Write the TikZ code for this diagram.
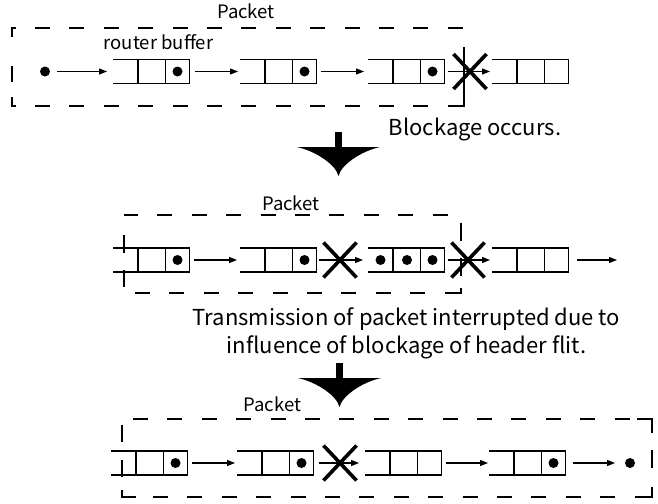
\documentclass[tikz,border=0pt]{standalone}
\usepackage{fontspec}
\setmainfont{Noto Sans CJK JP}
\usetikzlibrary{arrows.meta,calc}

\tikzset{
  bufnode/.style={rectangle, inner sep=0pt, outer sep=0pt, minimum width=76.5pt, minimum height=24pt},
  bufline/.style={line width=1.2pt},
  flow/.style={line width=1.2pt, -{Triangle[length=8pt,width=6pt]}},
  flit/.style={circle, fill=black, inner sep=0pt, outer sep=0pt, minimum size=10pt},
  pktline/.style={line width=1.4pt, dash pattern=on 15pt off 19.4pt},
  pktside/.style={line width=1.4pt},
  blockx/.style={line width=3.6pt},
  tag/.style={font=\fontsize{18.5}{22}\selectfont, anchor=base, inner sep=0pt},
  note/.style={font=\fontsize{22}{28}\selectfont, anchor=base, inner sep=0pt},
}

% open-ended router buffer: three cells, left side open
\newcommand\flitbuf[3]{%
  \node[bufnode] (#1) at (#2+38.25,#3) {};
  \draw[bufline] (#1.north west) -- (#1.north east) -- (#1.south east) -- (#1.south west);
  \draw[bufline] ($(#1.north west)+(25,0)$) -- ($(#1.south west)+(25,0)$)
                 ($(#1.north west)+(52.5,0)$) -- ($(#1.south west)+(52.5,0)$);
}
% flit sitting in the last cell of a buffer
\newcommand\lastflit[2]{\node[flit] (#1) at ($(#2.east)+(-12,0)$) {};}
% blockage cross
\newcommand\blockmark[1]{%
  \draw[blockx] ($(#1)+(-16.5,-17.5)$) -- ($(#1)+(16.5,17.5)$)
                ($(#1)+(-16.5,17.5)$) -- ($(#1)+(16.5,-17.5)$);
}
% heavy downward arrow: centre x, top of stem
\newcommand\bigdown[2]{%
  \fill (#1-3.5,#2) rectangle (#1+3.5,#2+16);
  \fill (#1-41.5,#2+15) -- (#1+41.5,#2+15)
        .. controls (#1+23.5,#2+19) and (#1+3,#2+32) .. (#1,#2+44)
        .. controls (#1-3,#2+32) and (#1-23.5,#2+19) .. cycle;
}

\begin{document}
\begin{tikzpicture}[x=1pt, y=-1pt]
\fill[white] (0,0) rectangle (658,503);
\useasboundingbox (0,0) rectangle (658,503);

% ---------- stage 1: packet advancing ----------
\draw[pktline, dash phase=11.4pt] (12,28) -- (464,28);
\draw[pktline, dash phase=11.4pt] (12,106) -- (464,106);
\draw[pktside] (15.6,28) -- (12,28) -- (12,37) (12,66) -- (12,82) (12,97) -- (12,106) -- (15.6,106);
\draw[pktside] (464,47) -- (464,106) -- (460,106);
\node[tag] (pk1) at (246,18.5) {Packet};
\node[tag] (rb) at (158.5,50) {router buffer};

\node[flit] (src) at (45,71.5) {};
\flitbuf{r1a}{113}{71.5}
\flitbuf{r1b}{240}{71.5}
\flitbuf{r1c}{368}{71.5}
\flitbuf{r1d}{492}{71.5}
\lastflit{f1a}{r1a}
\lastflit{f1b}{r1b}
\lastflit{f1c}{r1c}
\draw[flow, shorten <=7pt, shorten >=6pt] (src) -- (r1a);
\draw[flow, shorten <=5pt, shorten >=2pt] (r1a) -- (r1b);
\draw[flow, shorten <=4pt, shorten >=4pt] (r1b) -- (r1c);
\draw[flow, shorten <=3pt, shorten >=2pt] (r1c) -- (r1d);
\coordinate (x1) at (470,71.5);
\blockmark{x1}

\node[note] (blk) at (475,135.5) {Blockage occurs.};
\bigdown{338.5}{132}

% ---------- stage 2: header blocked ----------
\draw[pktline, dash phase=1pt] (124,215) -- (461,215);
\draw[pktline, dash phase=23.4pt] (124,293) -- (461,293);
\draw[pktside] (459,293) -- (461,293) -- (461,288);
\draw[pktside] (124,235) -- (124,253) (124,270) -- (124,287);
\draw[pktside] (461,223) -- (461,241) (461,258) -- (461,276);
\node[tag] (pk2) at (291,210) {Packet};

\flitbuf{r2a}{113}{260}
\flitbuf{r2b}{240}{260}
\flitbuf{r2c}{368}{260}
\flitbuf{r2d}{492}{260}
\lastflit{f2a}{r2a}
\lastflit{f2b}{r2b}
\node[flit] (f2c1) at ($(r2c.east)+(-64,0)$) {};
\node[flit] (f2c2) at ($(r2c.east)+(-37.5,0)$) {};
\node[flit] (f2c3) at ($(r2c.east)+(-12,0)$) {};
\coordinate (out2) at (617,260);
\draw[flow, shorten <=4pt, shorten >=3pt] (r2a) -- (r2b);
\draw[flow, shorten <=2pt, shorten >=5pt] (r2b) -- (r2c);
\draw[flow, shorten <=3pt, shorten >=2pt] (r2c) -- (r2d);
\draw[flow, shorten <=8pt] (r2d) -- (out2);
\coordinate (x2) at (340,260);
\coordinate (x3) at (468,260);
\blockmark{x2}
\blockmark{x3}

\node[note] (tr1) at (406.5,325) {Transmission of packet interrupted due to};
\node[note] (tr2) at (406.5,353) {influence of blockage of header flit.};
\bigdown{339.5}{363}

% ---------- stage 3: packet split ----------
\draw[pktline, dash phase=23.4pt] (122,419) -- (634,419);
\draw[pktside] (637,419) -- (652,419) -- (652,433);
\draw[pktline, dash phase=17.5pt] (136,497) -- (634,497);
\draw[pktside] (122,490) -- (122,497) -- (136,497);
\draw[pktside] (635,497) -- (652,497) -- (652,487);
\draw[pktside] (122,425) -- (122,442) (122,460) -- (122,477);
\draw[pktside] (652,450) -- (652,468);
\node[tag] (pk3) at (272.5,411) {Packet};

\flitbuf{r3a}{111}{463}
\flitbuf{r3b}{237}{463}
\flitbuf{r3c}{365}{463}
\flitbuf{r3d}{489}{463}
\lastflit{f3a}{r3a}
\lastflit{f3b}{r3b}
\lastflit{f3d}{r3d}
\node[flit] (sink) at (630,463) {};
\draw[flow, shorten <=4pt, shorten >=2pt] (r3a) -- (r3b);
\draw[flow, shorten <=5pt, shorten >=6pt] (r3b) -- (r3c);
\draw[flow, shorten <=4pt, shorten >=1pt] (r3c) -- (r3d);
\draw[flow, shorten <=7pt, shorten >=10pt] (r3d) -- (sink);
\coordinate (x4) at (340,463);
\blockmark{x4}
\end{tikzpicture}
\end{document}
